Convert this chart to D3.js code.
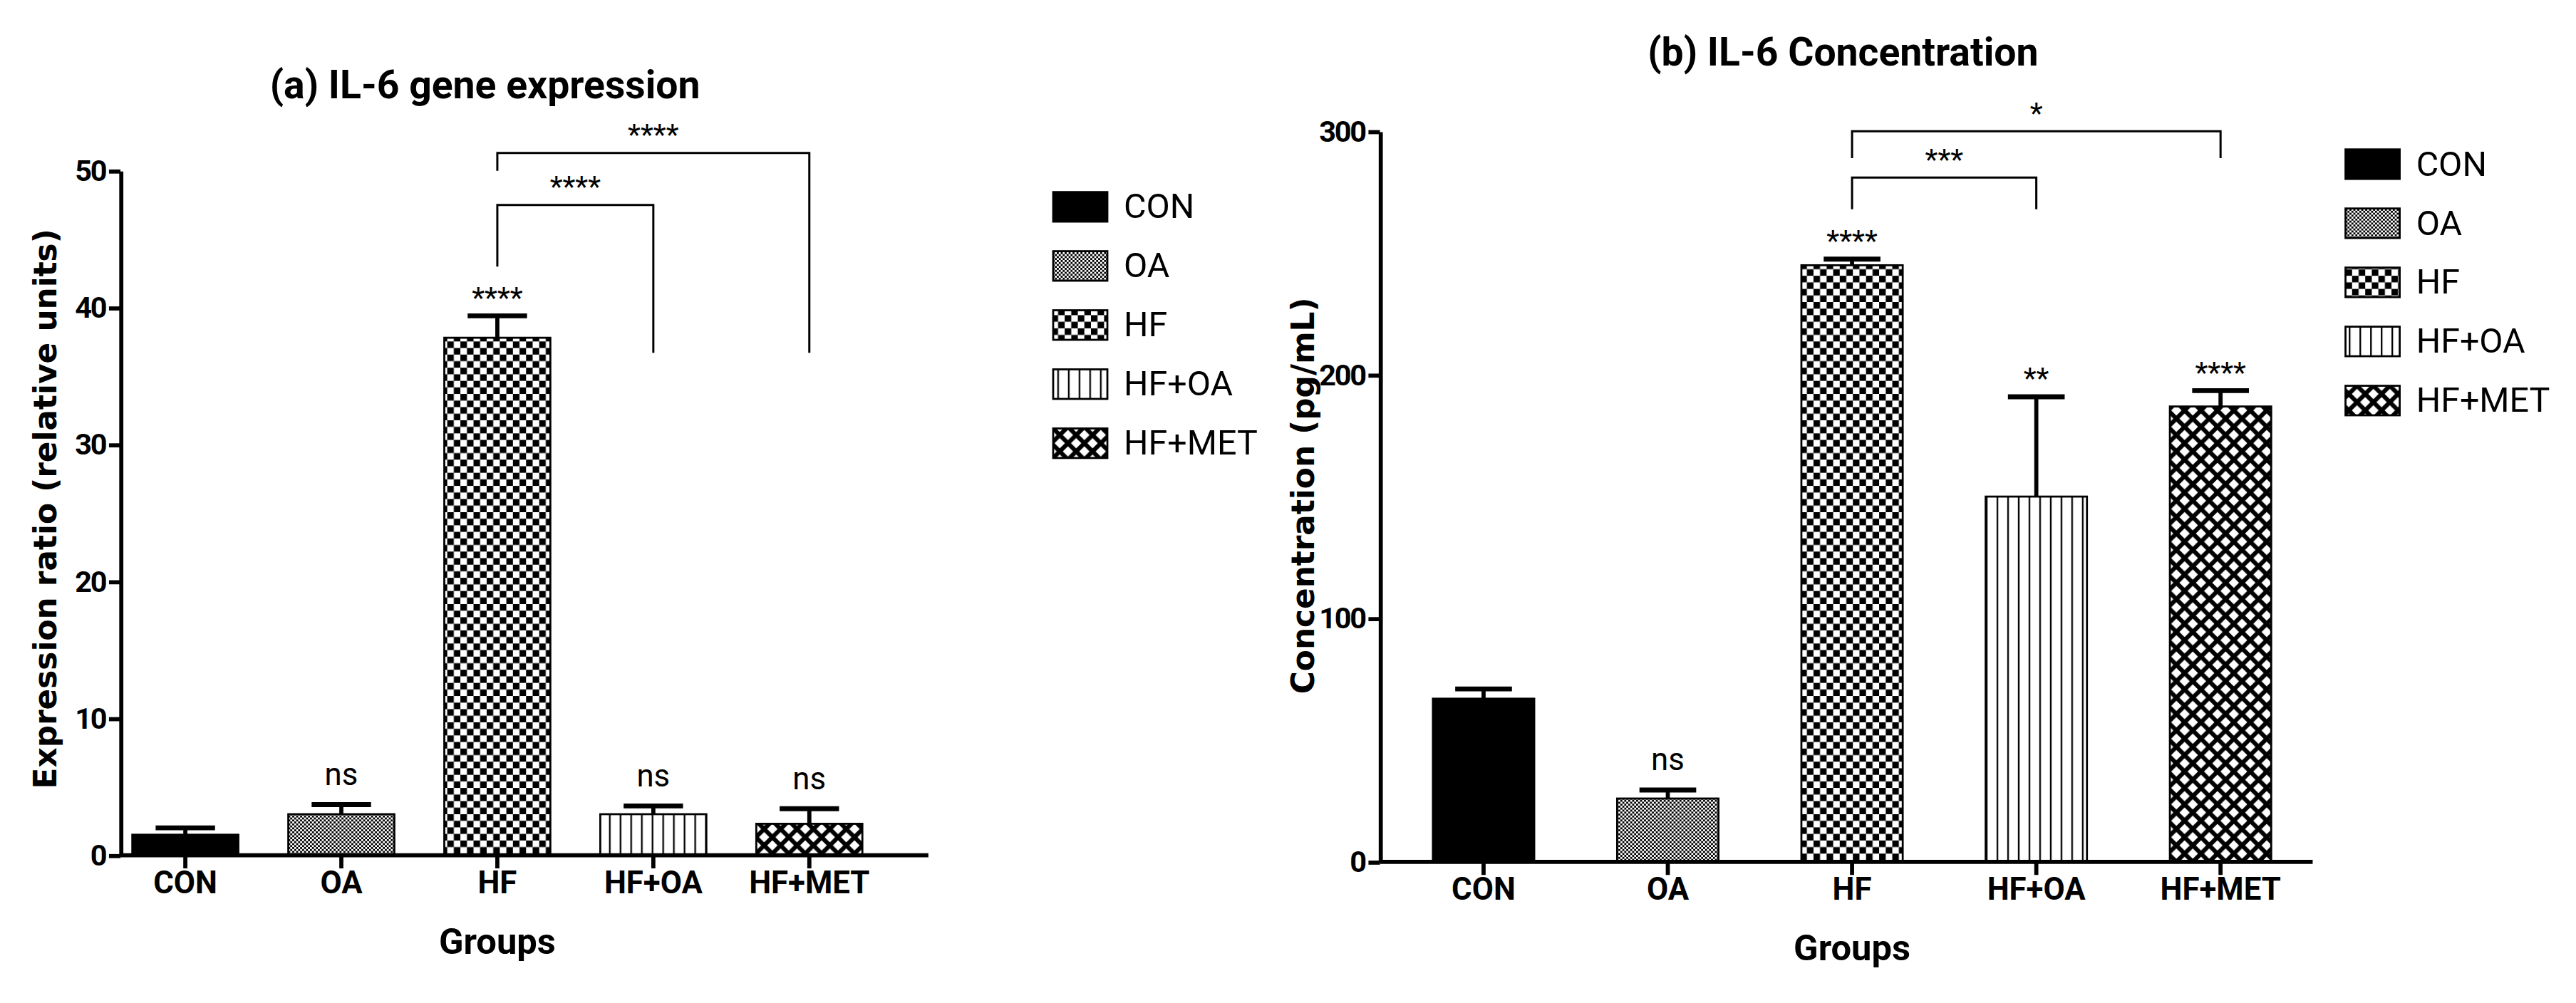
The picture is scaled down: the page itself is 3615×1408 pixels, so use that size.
<!DOCTYPE html>
<html><head><meta charset="utf-8">
<script src="https://cdn.jsdelivr.net/npm/d3@7"></script>
<style>body{margin:0;background:#fff}</style></head>
<body><svg id="c" width="3615" height="1408" viewBox="0 0 1568 611"></svg>
<script>
const groups = ["CON","OA","HF","HF+OA","HF+MET"];
const exprMean = [1.5, 3.0, 37.8, 3.0, 2.3];
const exprSEM  = [0.5, 0.7, 1.6, 0.6, 1.1];
const exprSig  = ["", "ns", "****", "ns", "ns"];
const concMean = [67, 26, 245, 150, 187];
const concSEM  = [4, 3.5, 2.5, 41, 6.5];
const concSig  = ["", "ns", "****", "**", "****"];
const exprTicks = [0,10,20,30,40,50];
const concTicks = [0,100,200,300];
const exprBrackets = [{a:"HF",b:"HF+OA",y:47.5,ya:43,yb:36.7,lab:"****"},{a:"HF",b:"HF+MET",y:51.3,ya:50,yb:36.7,lab:"****"}];
const concBrackets = [{a:"HF",b:"HF+OA",y:281,ya:268,yb:268,lab:"***"},{a:"HF",b:"HF+MET",y:300,ya:289,yb:289,lab:"*"}];

const svg = d3.select("#c");
const NARROW = "'Liberation Sans Narrow','Arial Narrow',Roboto,sans-serif";
const defs = svg.append("defs");
function pat(id,s,draw){const p=defs.append("pattern").attr("id",id).attr("patternUnits","userSpaceOnUse").attr("width",s).attr("height",s);p.append("rect").attr("width",s).attr("height",s).attr("fill","#fff");draw(p,s);}
pat("pOA",2.4,(p,s)=>{p.append("rect").attr("width",s/2).attr("height",s/2);p.append("rect").attr("x",s/2).attr("y",s/2).attr("width",s/2).attr("height",s/2);});
pat("pHF",8,(p,s)=>{p.append("rect").attr("width",s/2).attr("height",s/2);p.append("rect").attr("x",s/2).attr("y",s/2).attr("width",s/2).attr("height",s/2);});
pat("pHFOA",6.5,(p,s)=>{p.append("rect").attr("x",0).attr("width",1).attr("height",s);});
pat("pMET",10,(p,s)=>{p.append("path").attr("d",`M0,0L${s},${s}M${s},0L0,${s}M-1,${s-1}L1,${s+1}M${s-1},-1L${s+1},1`).attr("stroke","#000").attr("stroke-width",2.6);});
const fills = ["#000","url(#pOA)","url(#pHF)","url(#pHFOA)","url(#pMET)"];

function panel(o){
  const x = d3.scaleBand().domain(groups).range([o.bx0,o.bx1]).paddingInner(o.pad).paddingOuter(o.pad/2);
  const y = d3.scaleLinear().domain([0,o.max]).range([o.y0,o.y1]);
  const g = svg.append("g");
  g.append("text").attr("x",o.tx).attr("y",o.ty).attr("text-anchor","middle").attr("font-family",NARROW).attr("font-weight","bold").attr("font-size",24).text(o.title);
  const bw = x.bandwidth();
  groups.forEach((k,i)=>{
    const cx = x(k)+bw/2;
    g.append("line").attr("x1",cx).attr("x2",cx).attr("y1",y(o.mean[i])).attr("y2",y(o.mean[i]+o.sem[i])).attr("stroke","#000").attr("stroke-width",2.5);
    g.append("line").attr("x1",cx-bw*0.28).attr("x2",cx+bw*0.28).attr("y1",y(o.mean[i]+o.sem[i])).attr("y2",y(o.mean[i]+o.sem[i])).attr("stroke","#000").attr("stroke-width",3);
    g.append("rect").attr("x",x(k)).attr("y",y(o.mean[i])).attr("width",bw).attr("height",y(0)-y(o.mean[i])).attr("fill",fills[i]).attr("stroke","#000").attr("stroke-width",1.2);
    if(o.sig[i]) g.append("text").attr("x",cx).attr("y",y(o.mean[i]+o.sem[i])-(o.sig[i]=="ns"?12:5)).attr("text-anchor","middle").attr("font-family",NARROW).attr("font-size",o.sig[i]=="ns"?19:18).text(o.sig[i]);
  });
  const ya = g.append("g").attr("transform",`translate(${o.x0},0)`).call(d3.axisLeft(y).tickValues(o.ticks).tickSize(7).tickSizeOuter(0));
  ya.select(".domain").attr("stroke-width",2.5);
  ya.selectAll(".tick line").attr("stroke-width",2.5);
  ya.selectAll("text").attr("font-family",NARROW).attr("font-weight","bold").attr("font-size",18).attr("dx",1).attr("letter-spacing",-1);
  const xa = g.append("g").attr("transform",`translate(0,${o.y0})`).call(d3.axisBottom(x).tickSize(8).tickSizeOuter(0));
  xa.select(".domain").attr("stroke-width",2.5).attr("d",`M${o.x0},0H${o.x1}`);
  xa.selectAll(".tick line").attr("stroke-width",2.5);
  xa.selectAll("text").attr("font-family",NARROW).attr("font-weight","bold").attr("font-size",19).attr("dy",12);
  g.append("text").attr("x",x("HF")+bw/2).attr("y",o.y0+60).attr("text-anchor","middle").attr("font-family",NARROW).attr("font-weight","bold").attr("font-size",22).text("Groups");
  g.append("text").attr("transform",`translate(${o.ylx},${o.yly}) rotate(-90)`).attr("text-anchor","middle").attr("font-family","'DejaVu Sans',Verdana,sans-serif").attr("font-weight","bold").attr("font-size",19).text(o.ylab);
  o.brackets.forEach(b=>{
    const xa_=x(b.a)+bw/2, xb=x(b.b)+bw/2;
    g.append("path").attr("d",`M${xa_},${y(b.ya)}V${y(b.y)}H${xb}V${y(b.yb)}`).attr("fill","none").attr("stroke","#000").attr("stroke-width",1.3);
    g.append("text").attr("x",(xa_+xb)/2).attr("y",y(b.y)-5).attr("text-anchor","middle").attr("font-family",NARROW).attr("font-size",18).text(b.lab);
  });
  groups.forEach((k,i)=>{
    const ly=o.ly+i*o.ldy;
    g.append("rect").attr("x",o.lx).attr("y",ly-9).attr("width",33).attr("height",18).attr("fill",fills[i]).attr("stroke","#000").attr("stroke-width",1.2);
    g.append("text").attr("x",o.lx+43).attr("y",ly+7).attr("font-family",NARROW).attr("font-size",21).text(k);
  });
}
panel({x0:73,x1:565,bx0:65,bx1:540,y0:521,y1:104,max:50,pad:0.32,mean:exprMean,sem:exprSEM,sig:exprSig,ticks:exprTicks,brackets:exprBrackets,
  title:"(a) IL-6 gene expression",tx:295,ty:60,ylab:"Expression ratio (relative units)",ylx:34,yly:310,lx:641,ly:126,ldy:36});
panel({x0:840,x1:1408,bx0:847,bx1:1408,y0:525,y1:80,max:300,pad:0.45,mean:concMean,sem:concSEM,sig:concSig,ticks:concTicks,brackets:concBrackets,
  title:"(b) IL-6 Concentration",tx:1122,ty:40,ylab:"Concentration (pg/mL)",ylx:800,yly:302,lx:1428,ly:100,ldy:36});
</script></body></html>
